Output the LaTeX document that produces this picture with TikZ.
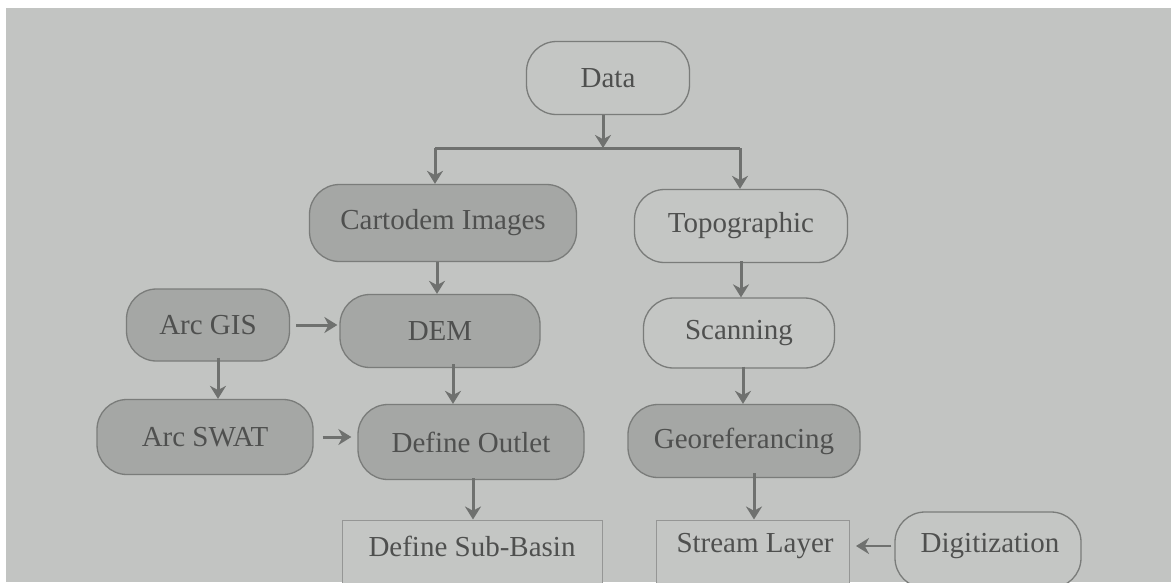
\documentclass[tikz,border=0pt]{standalone}
\usepackage{fontspec}
\setmainfont{Liberation Serif}
\usetikzlibrary{arrows.meta}
\definecolor{bgc}{HTML}{C2C4C2}
\definecolor{darkbox}{HTML}{A5A7A5}
\definecolor{lightbox}{HTML}{C4C6C4}
\definecolor{edgec}{HTML}{7A7C7A}
\definecolor{txtc}{HTML}{4F504F}
\definecolor{arrc}{HTML}{6F716F}
\tikzset{
  rbox/.style={draw=edgec, line width=1.3pt, rounded corners=30pt, text=txtc,
    font=\fontsize{29}{31}\selectfont, inner sep=0pt, anchor=center},
  darkrbox/.style={rbox, fill=darkbox},
  lightrbox/.style={rbox, fill=lightbox},
  sqbox/.style={draw=edgec!80, line width=1pt, fill=lightbox, inner sep=0pt, anchor=center},
  lbl/.style={text=txtc, font=\fontsize{29}{31}\selectfont, inner sep=0pt, anchor=center},
  arr/.style={draw=arrc, line width=3pt, -{Stealth[length=13pt,width=16pt]}},
  ln/.style={draw=arrc, line width=3pt}
}
\begin{document}
\begin{tikzpicture}[x=1pt,y=-1pt]
\useasboundingbox (0,0) rectangle (1171,582);
\fill[white] (0,0) rectangle (1171,582);
\fill[bgc] (6,8) rectangle (1171,582);

% nodes
\node[lightrbox, minimum width=163pt, minimum height=73pt] (data) at (608,78) {Data};
\node[darkrbox, minimum width=267pt, minimum height=77pt] (carto) at (443,223) {Cartodem Images};
\node[lightrbox, minimum width=213pt, minimum height=73pt] (topo) at (741,226) {Topographic};
\node[darkrbox, minimum width=163pt, minimum height=72pt] (arcgis) at (208,325) {Arc GIS};
\node[darkrbox, minimum width=200pt, minimum height=73pt] (dem) at (440,331) {DEM};
\node[lightrbox, minimum width=191pt, minimum height=70pt] (scan) at (739,333) {Scanning};
\node[darkrbox, minimum width=216pt, minimum height=75pt] (swat) at (205,437) {Arc SWAT};
\node[darkrbox, minimum width=226pt, minimum height=75pt] (outlet) at (471,442) {Define Outlet};
\node[darkrbox, minimum width=232pt, minimum height=73pt] (geo) at (744,441) {Georeferancing};
\node[sqbox, minimum width=260pt, minimum height=70pt] (sub) at (472,555) {};
\node[lbl] (subt) at (472,546) {Define Sub-Basin};
\node[sqbox, minimum width=193pt, minimum height=70pt] (stream) at (753,555) {};
\node[lbl] (streamt) at (755,546) {Stream Layer};
\node[lightrbox, minimum width=186pt, minimum height=76pt] (digit) at (988,550) {};
\node[lbl] (digitt) at (990,546) {Digitization};

% connectors
\coordinate (split) at (603,148);
\draw[arr] (data.south -| split) -- (split);
\draw[ln] (435,148) -- (740,148);
\draw[arr] (435,148) -- (carto.north -| 435,0);
\draw[arr] (740,148) -- (topo.north -| 740,0);
\draw[arr] (carto.south -| 437,0) -- (dem.north -| 437,0);
\draw[arr] ([xshift=6pt]arcgis.east) -- ([xshift=-2pt]dem.west |- arcgis.east);
\draw[arr] ([yshift=4pt]arcgis.south -| 218,0) -- (swat.north -| 218,0);
\draw[arr] ([yshift=4pt]dem.south -| 453,0) -- (outlet.north -| 453,0);
\draw[arr] ([xshift=9pt]swat.east) -- ([xshift=-6pt]outlet.west |- swat.east);
\draw[arr] ([yshift=2pt]outlet.south -| 473,0) -- (sub.north -| 473,0);
\draw[arr] ([yshift=2pt]topo.south -| 741,0) -- (scan.north -| 741,0);
\draw[arr] ([yshift=2pt]scan.south -| 743,0) -- (geo.north -| 743,0);
\draw[arr] ([yshift=5pt]geo.south -| 754,0) -- (stream.north -| 754,0);
\draw[arr, line width=2pt] ([xshift=-3pt]digit.west |- streamt) -- ([xshift=6pt]stream.east |- streamt);
\end{tikzpicture}
\end{document}
